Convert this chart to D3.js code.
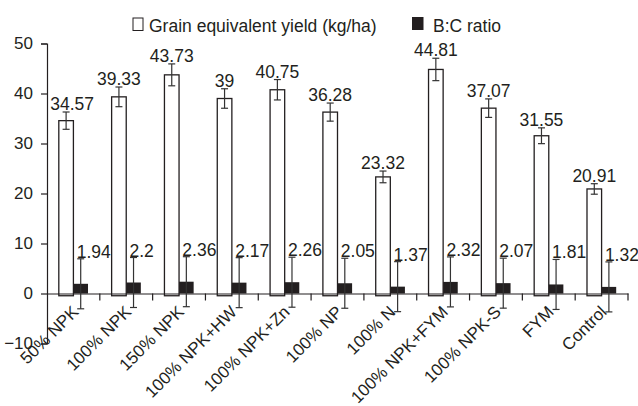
<!DOCTYPE html>
<html>
<head>
<meta charset="utf-8">
<script src="https://cdn.jsdelivr.net/npm/d3@7"></script>
<style>
  html, body { margin: 0; padding: 0; background: #fff; }
  svg { display: block; }
  text { font-family: "Liberation Sans", Arial, sans-serif; fill: #231f20; }
</style>
</head>
<body>
<script>
const categories = ["50% NPK", "100% NPK", "150% NPK", "100% NPK+HW", "100% NPK+Zn", "100% NP", "100% N", "100% NPK+FYM", "100% NPK-S", "FYM", "Control"];
const yieldValues = [34.57, 39.33, 43.73, 39, 40.75, 36.28, 23.32, 44.81, 37.07, 31.55, 20.91];
const yieldErrors = [1.73, 1.97, 2.19, 1.95, 2.04, 1.81, 1.17, 2.24, 1.85, 1.58, 1.05];
const bcValues = [1.94, 2.2, 2.36, 2.17, 2.26, 2.05, 1.37, 2.32, 2.07, 1.81, 1.32];
const bcErrors = [5, 5, 5, 5, 5, 5, 5, 5, 5, 5, 5];
const yTicks = [-10, 0, 10, 20, 30, 40, 50];
const seriesNames = ["Grain equivalent yield (kg/ha)", "B:C ratio"];

const W = 638, H = 406;
const ink = "#231f20";
const svg = d3.select("body").append("svg").attr("width", W).attr("height", H);

const y = d3.scaleLinear().domain([-10, 50]).range([343.5, 43.5]);
const x = d3.scaleBand().domain(categories).range([47, 628]).padding(0);
const barW = 14.6;

// Y axis
const yAxis = d3.axisLeft(y).tickValues(yTicks).tickSize(6).tickPadding(8).tickFormat(d3.format("d"));
const gy = svg.append("g").attr("transform", "translate(47,0)").call(yAxis);
gy.select(".domain").attr("stroke", ink).attr("stroke-width", 1.2);
gy.selectAll(".tick line").attr("stroke", ink).attr("stroke-width", 1.2);
gy.selectAll(".tick text").style("font-size", "17px").style("font-family", "Liberation Sans, Arial, sans-serif").attr("fill", ink);

// Bars
const g = svg.append("g");
const cx = d => x(d) + x.bandwidth() / 2;

// white bars (slightly below baseline as in original)
g.selectAll("rect.yield").data(categories).join("rect")
  .attr("class", "yield")
  .attr("x", d => cx(d) - barW)
  .attr("width", barW)
  .attr("y", (d, i) => y(yieldValues[i]))
  .attr("height", (d, i) => y(-0.45) - y(yieldValues[i]))
  .attr("fill", "#fff").attr("stroke", ink).attr("stroke-width", 1.3);

// X axis line + ticks
const xAxis = d3.axisBottom(x).tickSize(0).tickFormat("");
const gx = svg.append("g").attr("transform", `translate(0,${y(0)})`).call(xAxis);
gx.select(".domain").attr("stroke", ink).attr("stroke-width", 1.2);
const boundaries = categories.map(d => x(d)).concat([x.range()[1]]);
gx.selectAll("line.bt").data(boundaries.slice(1)).join("line")
  .attr("class", "bt").attr("x1", d => d).attr("x2", d => d)
  .attr("y1", 0).attr("y2", 7).attr("stroke", ink).attr("stroke-width", 1.2);

// black bars
g.selectAll("rect.bc").data(categories).join("rect")
  .attr("class", "bc")
  .attr("x", d => cx(d))
  .attr("width", barW)
  .attr("y", (d, i) => y(bcValues[i]))
  .attr("height", (d, i) => y(0) - y(bcValues[i]))
  .attr("fill", ink);

// error bars
function errorBars(centerFn, vals, errs) {
  const eg = svg.append("g").attr("stroke", "#333").attr("stroke-width", 1.2);
  categories.forEach((c, i) => {
    const xc = centerFn(c);
    const top = y(vals[i] + errs[i]), bot = y(vals[i] - errs[i]);
    eg.append("line").attr("x1", xc).attr("x2", xc).attr("y1", top).attr("y2", bot);
    eg.append("line").attr("x1", xc - 3.5).attr("x2", xc + 3.5).attr("y1", top).attr("y2", top);
    eg.append("line").attr("x1", xc - 3.5).attr("x2", xc + 3.5).attr("y1", bot).attr("y2", bot);
  });
}
errorBars(c => cx(c) - barW / 2, yieldValues, yieldErrors);
errorBars(c => cx(c) + barW / 2, bcValues, bcErrors);

// value labels
svg.append("g").selectAll("text").data(categories).join("text")
  .attr("x", (d, i) => cx(d) - barW / 2 + (i === 0 ? 6 : 0))
  .attr("y", (d, i) => y(yieldValues[i] + yieldErrors[i]) - 2)
  .attr("text-anchor", "middle")
  .style("font-size", "17.5px")
  .text((d, i) => String(yieldValues[i]));

svg.append("g").selectAll("text").data(categories).join("text")
  .attr("x", d => cx(d) + barW / 2 - 4)
  .attr("y", (d, i) => y(bcValues[i] + bcErrors[i]) - 1)
  .attr("text-anchor", "start")
  .style("font-size", "17.5px")
  .text((d, i) => String(bcValues[i]));

// rotated category labels
svg.append("g").selectAll("text").data(categories).join("text")
  .attr("transform", d => `translate(${cx(d) + 6},313) rotate(-45)`)
  .attr("text-anchor", "end")
  .style("font-size", "17px")
  .text(d => d);

// legend
const lg = svg.append("g");
lg.append("rect").attr("x", 133).attr("y", 18).attr("width", 10).attr("height", 12.5)
  .attr("fill", "#fff").attr("stroke", ink).attr("stroke-width", 1);
lg.append("text").attr("x", 149).attr("y", 31.5).style("font-size", "17.5px").text(seriesNames[0]);
lg.append("rect").attr("x", 412).attr("y", 17).attr("width", 11.5).attr("height", 13).attr("fill", ink);
lg.append("text").attr("x", 433).attr("y", 31.5).style("font-size", "17.5px").text(seriesNames[1]);
</script>
</body>
</html>
